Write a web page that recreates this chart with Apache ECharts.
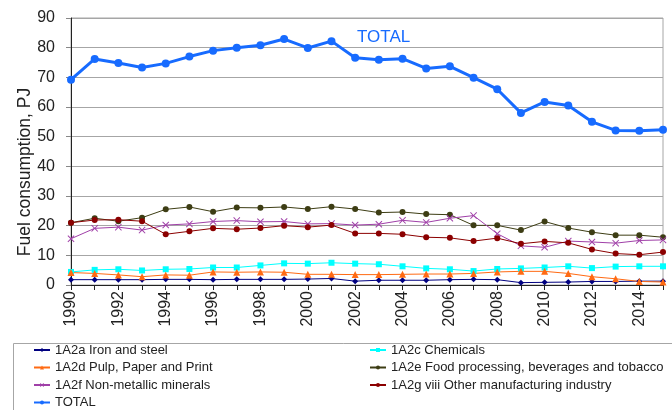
<!DOCTYPE html>
<html>
<head>
    <meta charset="utf-8" />
    <title>Fuel consumption</title>
    <script src="https://cdn.jsdelivr.net/npm/echarts@6.0.0/dist/echarts.min.js"></script>
    <style>
        html, body { margin: 0; padding: 0; background: #fff; }
        #main { width: 672px; height: 410px; }
    </style>
</head>
<body>
    <div id="main"></div>
    <script type="text/javascript">
        var years = ['1990','1991','1992','1993','1994','1995','1996','1997','1998','1999','2000','2001','2002',
                     '2003','2004','2005','2006','2007','2008','2009','2010','2011','2012','2013','2014','2015'];

        var ironSteel = [1.8,1.8,1.8,1.8,1.9,1.9,1.8,1.9,1.9,1.9,2.0,2.2,1.3,1.6,1.6,1.6,1.8,1.9,1.8,0.8,0.9,1.0,1.2,1.2,1.3,1.3];
        var chemicals = [4.4,5.1,5.3,4.9,5.3,5.4,5.9,5.9,6.6,7.3,7.2,7.5,7.2,7.0,6.3,5.6,5.3,4.7,5.4,5.6,5.9,6.3,5.7,6.2,6.3,6.3];
        var pulpPaper = [4.2,3.9,3.4,2.8,3.4,3.3,4.4,4.3,4.4,4.3,3.6,3.6,3.5,3.5,3.6,3.7,3.7,3.9,4.4,4.6,4.6,3.9,2.8,2.1,1.2,1.0];
        var foodProc = [21.0,22.5,21.5,22.7,25.5,26.3,24.7,26.1,26.0,26.3,25.6,26.4,25.6,24.4,24.6,23.9,23.7,20.1,20.1,18.5,21.4,19.2,17.8,16.8,16.8,16.1];
        var nonMetal = [15.6,19.1,19.5,18.5,20.2,20.6,21.4,21.7,21.3,21.4,20.6,20.7,20.2,20.5,21.8,21.1,22.5,23.4,17.3,13.2,12.7,14.8,14.5,14.1,15.0,15.2];
        var otherManuf = [21.0,21.9,22.0,21.5,17.1,18.1,19.1,18.8,19.2,20.0,19.5,20.2,17.4,17.4,17.1,16.1,15.9,14.8,15.8,13.9,14.7,14.2,12.0,10.6,10.2,11.1];
        var total = [69.2,76.2,74.8,73.3,74.7,77.0,79.0,80.0,80.8,82.9,79.9,82.2,76.6,75.9,76.3,73.0,73.7,69.9,66.0,58.0,61.7,60.5,55.0,52.1,52.0,52.3];

        var names = ['1A2a Iron and steel', '1A2c Chemicals', '1A2d Pulp, Paper and Print',
                     '1A2e Food processing, beverages and tobacco', '1A2f Non-metallic minerals',
                     '1A2g viii Other manufacturing industry', 'TOTAL'];

        var font = 'Liberation Sans, Arial, sans-serif';
        var xShape = 'path://M0,1L1,0L5,4L9,0L10,1L6,5L10,9L9,10L5,6L1,10L0,9L4,5Z';

        function line(name, data, color, symbol, size, width) {
            return {
                name: name,
                type: 'line',
                data: data,
                symbol: symbol,
                symbolSize: size,
                showSymbol: true,
                lineStyle: { color: color, width: width },
                itemStyle: { color: color },
                emphasis: { disabled: true },
                animation: false
            };
        }

        var myChart = echarts.init(document.getElementById('main'));
        // legend text, one row every ~17.5px
        var legendText = { fontFamily: font, fontSize: 13, color: '#222', lineHeight: 14 };

        var option = {
            backgroundColor: '#fff',
            textStyle: { fontFamily: font },
            grid: {
                left: 71, right: 9, top: 18, bottom: 125,
                show: true, borderColor: '#a6a6a6', borderWidth: 1
            },
            legend: [
                {
                    data: [names[0], names[2], names[4], names[6]],
                    orient: 'vertical', left: 33, top: 343, padding: 0,
                    itemWidth: 16, itemHeight: 5, itemGap: 3.5,
                    textStyle: legendText
                },
                {
                    data: [names[1], names[3], names[5]],
                    orient: 'vertical', left: 369, top: 343, padding: 0,
                    itemWidth: 16, itemHeight: 5, itemGap: 3.5,
                    textStyle: legendText
                }
            ],
            graphic: [
                {
                    type: 'rect', left: 11, top: 341, silent: true,
                    shape: { width: 700, height: 100 },
                    style: { fill: 'none', stroke: '#a6a6a6', lineWidth: 1 }
                },
                {
                    type: 'text', left: 357, top: 29, silent: true,
                    style: { text: 'TOTAL', fill: '#176bff', font: '17px ' + font }
                },
                {
                    // y axis title, sits a bit below the plot middle like the original
                    type: 'text', x: 25, y: 172, rotation: Math.PI / 2, silent: true,
                    style: {
                        text: 'Fuel consumption, PJ', fill: '#222',
                        font: '17.5px ' + font, align: 'center', verticalAlign: 'middle'
                    }
                }
            ],
            xAxis: {
                type: 'category',
                data: years,
                boundaryGap: false,
                axisLine: { lineStyle: { color: '#222', width: 1 } },
                axisTick: { show: true, interval: 0, length: 5, lineStyle: { color: '#222' } },
                axisLabel: { interval: 1, rotate: 90, fontSize: 16, color: '#222', margin: 6, fontFamily: font },
                splitLine: { show: false }
            },
            yAxis: {
                type: 'value',
                min: 0, max: 90, interval: 10,
                axisLine: { show: true, lineStyle: { color: '#222', width: 1 } },
                axisTick: { show: true, length: 5, lineStyle: { color: '#888' } },
                axisLabel: { fontSize: 16, color: '#222', margin: 16, fontFamily: font },
                splitLine: { lineStyle: { color: '#a6a6a6', width: 1 } }
            },
            series: [
                line(names[0], ironSteel, '#000080', 'diamond', 6, 1),
                line(names[1], chemicals, '#00ffff', 'rect', 6, 1),
                line(names[2], pulpPaper, '#ff6a13', 'triangle', 7, 1),
                line(names[3], foodProc, '#3d3d14', 'circle', 6, 1),
                line(names[4], nonMetal, '#a040a8', xShape, 7, 1),
                line(names[5], otherManuf, '#8b0000', 'circle', 6, 1),
                line(names[6], total, '#176bff', 'circle', 8, 3)
            ]
        };

        myChart.setOption(option);
    </script>
</body>
</html>
